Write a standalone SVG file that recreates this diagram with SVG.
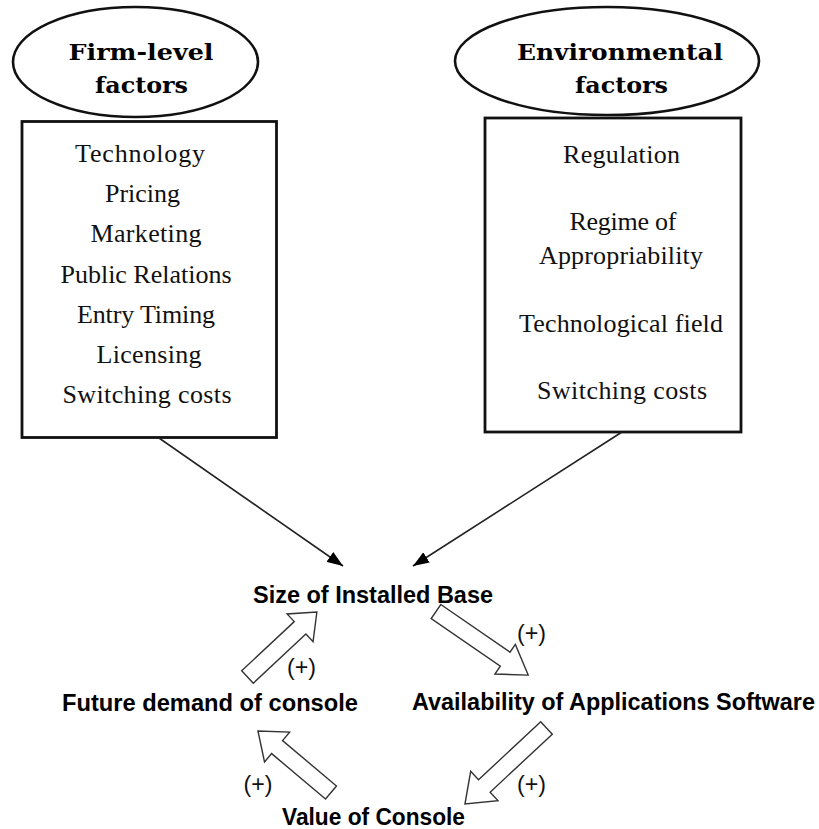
<svg xmlns="http://www.w3.org/2000/svg" width="819" height="829" viewBox="0 0 819 829">
  <style>
    .bg { fill: #ffffff; }
    .oval { fill: #ffffff; stroke: #111; stroke-width: 2.6; }
    .box { fill: #ffffff; stroke: #111; stroke-width: 2.8; }
    .head { font-family: "DejaVu Serif", "Liberation Serif", serif; font-weight: bold; font-size: 22px; fill: #000; text-anchor: middle; }
    .item { font-family: "Liberation Serif", "Times New Roman", serif; font-size: 26px; fill: #111; text-anchor: middle; }
    .node { font-family: "Liberation Sans", Arial, sans-serif; font-weight: bold; font-size: 23.5px; fill: #000; }
    .sign { font-family: "Liberation Sans", Arial, sans-serif; font-size: 24px; fill: #111; text-anchor: middle; }
    .link { fill: none; stroke: #222; stroke-width: 1.6; }
    .block { fill: #ffffff; stroke: #333; stroke-width: 1.4; stroke-linejoin: miter; }
  </style>
  <defs>
    <marker id="tri" viewBox="0 0 16 12" refX="16" refY="6" markerWidth="16" markerHeight="12" markerUnits="userSpaceOnUse" orient="auto">
      <path d="M0,0 L16,6 L0,12 Z" fill="#000"/>
    </marker>
  </defs>

  <rect class="bg" x="0" y="0" width="819" height="829"/>

  <!-- Firm-level factors -->
  <g id="firm-level">
    <ellipse class="oval" cx="135.5" cy="62" rx="122.5" ry="55"/>
    <text class="head" x="141" y="60" textLength="145" lengthAdjust="spacingAndGlyphs">Firm-level</text>
    <text class="head" x="141.5" y="93" textLength="93" lengthAdjust="spacingAndGlyphs">factors</text>
  </g>
  <g id="firm-list">
    <rect class="box" x="22" y="121.5" width="254.5" height="316"/>
    <text class="item" x="140" y="162" textLength="130">Technology</text>
    <text class="item" x="142.5" y="201.5" textLength="75">Pricing</text>
    <text class="item" x="146" y="241.5" textLength="111">Marketing</text>
    <text class="item" x="146" y="283" textLength="171">Public Relations</text>
    <text class="item" x="146" y="323" textLength="138">Entry Timing</text>
    <text class="item" x="149" y="363" textLength="105">Licensing</text>
    <text class="item" x="147" y="403" textLength="169">Switching costs</text>
  </g>

  <!-- Environmental factors -->
  <g id="environmental">
    <ellipse class="oval" cx="607" cy="61" rx="152" ry="54"/>
    <text class="head" x="620" y="60" textLength="206" lengthAdjust="spacingAndGlyphs">Environmental</text>
    <text class="head" x="621.5" y="93" textLength="93" lengthAdjust="spacingAndGlyphs">factors</text>
  </g>
  <g id="environment-list">
    <rect class="box" x="485" y="118" width="256" height="314"/>
    <text class="item" x="621.5" y="162.5" textLength="117">Regulation</text>
    <text class="item" x="623" y="230" textLength="107">Regime of</text>
    <text class="item" x="621" y="264" textLength="164">Appropriability</text>
    <text class="item" x="621" y="331.5" textLength="204">Technological field</text>
    <text class="item" x="622" y="399" textLength="170">Switching costs</text>
  </g>

  <!-- Feedback loop nodes -->
  <g id="installed-base">
    <text class="node" x="253" y="603" textLength="240" lengthAdjust="spacingAndGlyphs">Size of Installed Base</text>
  </g>
  <g id="applications">
    <text class="node" x="412" y="710" textLength="403" lengthAdjust="spacingAndGlyphs">Availability of Applications Software</text>
  </g>
  <g id="future-demand">
    <text class="node" x="62" y="711" textLength="296" lengthAdjust="spacingAndGlyphs">Future demand of console</text>
  </g>
  <g id="console-value">
    <text class="node" x="282" y="825" textLength="183" lengthAdjust="spacingAndGlyphs">Value of Console</text>
  </g>

  <!-- Connectors -->
  <g id="connectors">
    <line class="link" x1="159" y1="438" x2="343" y2="566" marker-end="url(#tri)"/>
    <line class="link" x1="622" y1="432" x2="413" y2="566" marker-end="url(#tri)"/>

    <!-- block arrows: tail at origin, pointing along +x -->
    <polygon class="block" transform="translate(247.5,677) rotate(-43.1)" points="0,-8.5 72,-8.5 72,-19 95,0 72,19 72,8.5 0,8.5"/>
    <polygon class="block" transform="translate(436,611.5) rotate(34.6)" points="0,-8.5 84,-8.5 84,-18 112,0 84,18 84,8.5 0,8.5"/>
    <polygon class="block" transform="translate(546.5,728) rotate(137)" points="0,-8.5 85,-8.5 85,-20 111.5,0 85,20 85,8.5 0,8.5"/>
    <polygon class="block" transform="translate(331,792.5) rotate(-139.9)" points="0,-8.5 70.5,-8.5 70.5,-19.5 95.5,0 70.5,19.5 70.5,8.5 0,8.5"/>

    <text class="sign" x="301.5" y="675" textLength="29" lengthAdjust="spacingAndGlyphs">(+)</text>
    <text class="sign" x="531.5" y="641" textLength="29" lengthAdjust="spacingAndGlyphs">(+)</text>
    <text class="sign" x="531.5" y="792" textLength="29" lengthAdjust="spacingAndGlyphs">(+)</text>
    <text class="sign" x="258" y="792" textLength="29" lengthAdjust="spacingAndGlyphs">(+)</text>
  </g>
</svg>
